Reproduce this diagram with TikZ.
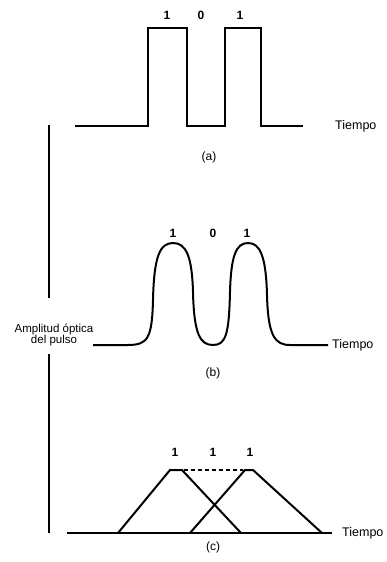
\documentclass[tikz,border=0pt]{standalone}
\usepackage{fontspec}
\setmainfont{Liberation Sans}
\begin{document}
\begin{tikzpicture}[x=1pt,y=-1pt,
  wave/.style={line width=2pt,line join=miter},
  lbl/.style={font=\fontsize{12}{13}\selectfont\bfseries,inner sep=0pt},
  axl/.style={font=\fontsize{11.5}{12}\selectfont,inner sep=0pt},
  tiem/.style={font=\fontsize{12.5}{13}\selectfont,inner sep=0pt,anchor=west},
  captxt/.style={font=\fontsize{12}{13}\selectfont,inner sep=0pt}]
\useasboundingbox (0,0) rectangle (387,562);
% vertical axis
\coordinate (v1) at (49,125);
\coordinate (v2) at (49,298);
\coordinate (v3) at (49,354);
\coordinate (v4) at (49,533);
\draw[line width=1.5pt] (v1) -- (v2);
\draw[line width=1.5pt] (v3) -- (v4);
\node[axl,align=center] (amp) at (54,335) {Amplitud óptica\\[-1pt]del pulso};
% (a)
\draw[wave] (75,126) -- (148,126) -- (148,28) -- (187,28) -- (187,126) -- (225,126) -- (225,28) -- (261,28) -- (261,126) -- (303,126);
\node[lbl] (a1) at (167,15) {1};
\node[lbl] (a0) at (201,15) {0};
\node[lbl] (a2) at (240,15) {1};
\node[tiem] (ta) at (335,126) {Tiempo};
\node[captxt] (ca) at (209,157) {(a)};
% (b)
\draw[wave] (93,345) -- (128,345)
  .. controls (148,345) and (152,338) .. (153,300)
  .. controls (154,256) and (160,243) .. (173,243)
  .. controls (186,243) and (192,256) .. (193,292)
  .. controls (194,334) and (200,345) .. (213,345)
  .. controls (226,345) and (229,334) .. (230,292)
  .. controls (231,256) and (236,243) .. (248,243)
  .. controls (260,243) and (266,256) .. (267,295)
  .. controls (268,336) and (275,345) .. (290,345) -- (328,345);
\node[lbl] (b1) at (173,233) {1};
\node[lbl] (b0) at (213,233) {0};
\node[lbl] (b2) at (247,233) {1};
\node[tiem] (tb) at (332,345) {Tiempo};
\node[captxt] (cb) at (213,373) {(b)};
% (c)
\draw[wave] (67,533) -- (332,533);
\draw[wave] (118,533) -- (170,470) -- (182,470) -- (241,533);
\draw[wave] (190,533) -- (245,470) -- (253,470) -- (322,533);
\draw[line width=1.7pt,dash pattern=on 4pt off 3pt] (184,470) -- (243,470);
\node[lbl] (c1) at (175,452) {1};
\node[lbl] (c2) at (213,452) {1};
\node[lbl] (c3) at (250,452) {1};
\node[tiem] (tc) at (342,533) {Tiempo};
\node[captxt] (cc) at (213,547) {(c)};
\end{tikzpicture}
\end{document}
